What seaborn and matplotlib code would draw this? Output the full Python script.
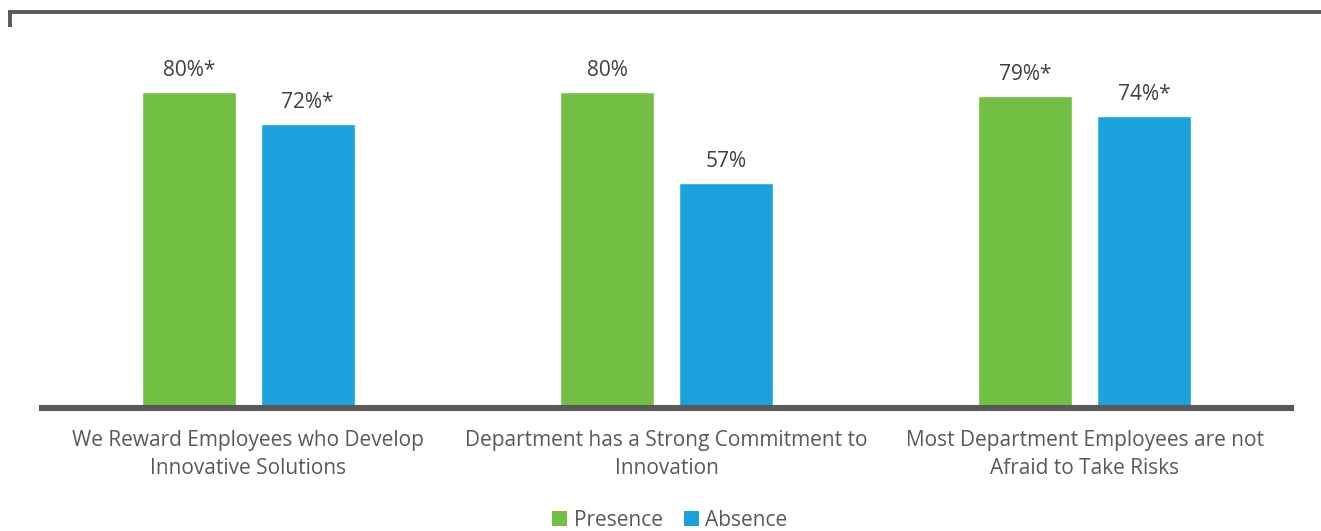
import matplotlib
matplotlib.use("Agg")
import matplotlib.pyplot as plt
from matplotlib.lines import Line2D
from matplotlib.patches import Patch
import pandas as pd
import seaborn as sns

# Survey results (% agreeing) by presence/absence of the practice
categories = [
    "We Reward Employees who Develop\nInnovative Solutions",
    "Department has a Strong Commitment to\nInnovation",
    "Most Department Employees are not\nAfraid to Take Risks",
]
presence = [80, 80, 79]
absence = [72, 57, 74]
significance = ["*", "", "*"]
series_names = ["Presence", "Absence"]
colors = ["#72BF44", "#1BA1DC"]

df = pd.DataFrame({
    "category": categories * 2,
    "group": [series_names[0]] * 3 + [series_names[1]] * 3,
    "value": presence + absence,
})

sns.set_theme(style="white")
plt.rcParams["font.family"] = ["Open Sans", "DejaVu Sans"]

fig = plt.figure(figsize=(13.21, 5.31), dpi=100)
ax = fig.add_axes([0.0297, 0.2316, 0.9497, 0.712])

sns.barplot(data=df, x="category", y="value", hue="group",
            palette=colors, hue_order=series_names, order=categories,
            width=0.568, gap=0.21, saturation=1, legend=False, ax=ax)

ax.set_ylim(0, 95.8)
ax.set_xlim(-0.5, 2.5)

# value labels above each bar
for cont, vals in zip(ax.containers, [presence, absence]):
    labels = [f"{v}%{s}" for v, s in zip(vals, significance)]
    ax.bar_label(cont, labels=labels, padding=8, fontsize=15, color="#404040")

for s in ["top", "right", "left"]:
    ax.spines[s].set_visible(False)
ax.spines["bottom"].set_color("#595959")
ax.spines["bottom"].set_linewidth(4.4)
ax.spines["bottom"].set_capstyle("butt")
ax.set_yticks([])
ax.set_xlabel("")
ax.set_ylabel("")
ax.tick_params(axis="x", length=0, pad=16, labelsize=15, labelcolor="#595959")
for t in ax.get_xticklabels():
    t.set_linespacing(1.45)

# top border of the panel
fig.add_artist(Line2D([8 / 1321, 1.0], [1 - 12 / 531, 1 - 12 / 531],
                      transform=fig.transFigure, color="#595959", lw=2.8,
                      solid_capstyle="butt"))
fig.add_artist(Line2D([9.5 / 1321, 9.5 / 1321], [1 - 11 / 531, 1 - 27 / 531],
                      transform=fig.transFigure, color="#595959", lw=2.8,
                      solid_capstyle="butt"))

handles = [Patch(facecolor=c, edgecolor="none") for c in colors]
leg = fig.legend(handles, series_names, loc="center", bbox_to_anchor=(0.507, 0.02),
                 ncol=2, frameon=False, fontsize=15, handlelength=0.75,
                 handleheight=0.75, handletextpad=0.3, columnspacing=1.0,
                 borderpad=0)
for t in leg.get_texts():
    t.set_color("#595959")

fig.savefig("out.png", dpi=100)
